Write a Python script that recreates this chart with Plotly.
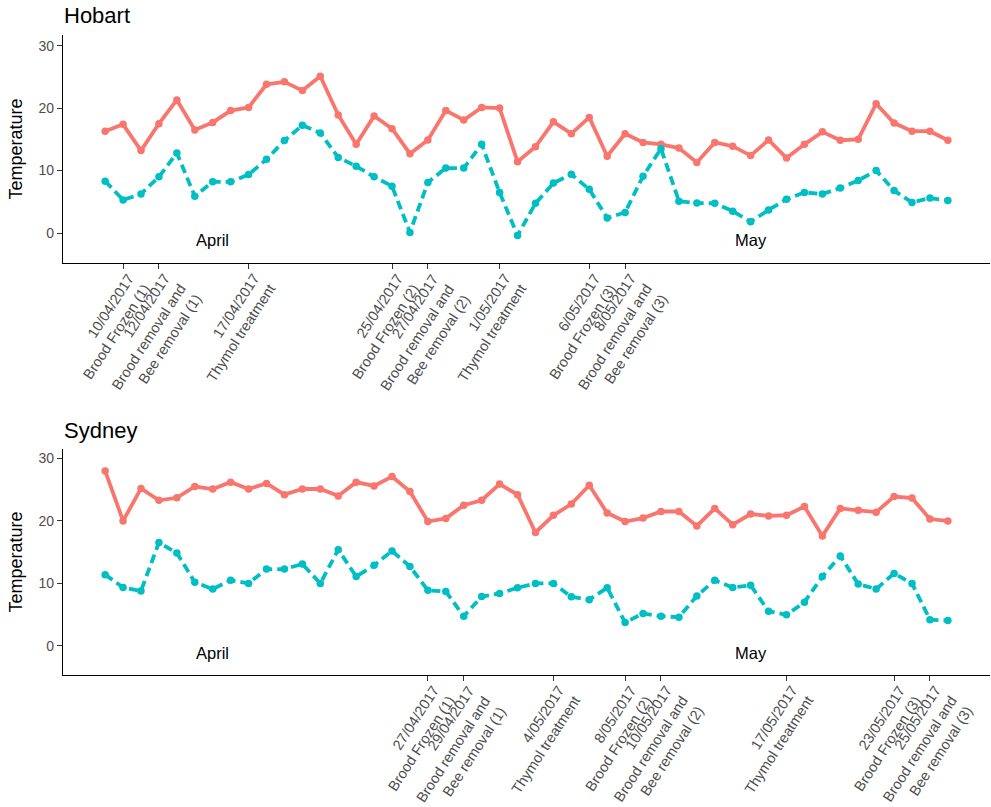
import math
import pandas as pd
import plotly.graph_objects as go

# One reading per day, 9 April to 26 May 2017
dates = pd.date_range("2017-04-09", periods=48, freq="D")

hobart_red = [16.3, 17.4, 13.2, 17.5, 21.3, 16.5, 17.7, 19.6, 20.1, 23.8, 24.2, 22.8,
              25.1, 18.9, 14.2, 18.75, 16.7, 12.7, 14.9, 19.6, 18.1, 20.1, 20.0, 11.4,
              13.8, 17.8, 15.9, 18.5, 12.3, 15.9, 14.5, 14.2, 13.6, 11.3, 14.5, 13.9,
              12.4, 14.9, 12.0, 14.2, 16.2, 14.85, 15.0, 20.7, 17.6, 16.3, 16.3, 14.85]
hobart_teal = [8.3, 5.3, 6.25, 9.0, 12.8, 5.9, 8.2, 8.2, 9.35, 11.8, 14.8, 17.25,
               16.0, 12.1, 10.7, 9.0, 7.5, 0.1, 8.1, 10.4, 10.4, 14.2, 6.5, -0.4,
               4.75, 8.0, 9.4, 7.0, 2.4, 3.3, 9.1, 13.5, 5.1, 4.8, 4.75, 3.5,
               1.8, 3.7, 5.4, 6.5, 6.25, 7.2, 8.4, 10.0, 6.8, 4.9, 5.6, 5.2]

sydney_red = [28.0, 20.0, 25.2, 23.3, 23.7, 25.5, 25.1, 26.2, 25.1, 26.0, 24.2, 25.1,
              25.1, 24.0, 26.2, 25.6, 27.1, 24.7, 19.9, 20.4, 22.5, 23.3, 25.9, 24.2,
              18.15, 20.9, 22.7, 25.7, 21.25, 19.9, 20.45, 21.5, 21.5, 19.2, 22.0, 19.4,
              21.1, 20.8, 20.9, 22.3, 17.6, 22.0, 21.7, 21.4, 23.9, 23.65, 20.3, 20.0]
sydney_teal = [11.4, 9.35, 8.8, 16.55, 14.85, 10.2, 9.1, 10.5, 10.0, 12.3, 12.3, 13.1,
               10.0, 15.4, 11.1, 12.9, 15.2, 12.7, 8.9, 8.7, 4.75, 7.9, 8.4, 9.3,
               10.0, 10.0, 7.85, 7.4, 9.3, 3.75, 5.2, 4.75, 4.6, 8.0, 10.5, 9.35,
               9.7, 5.55, 4.97, 7.0, 11.1, 14.4, 9.9, 9.1, 11.6, 10.0, 4.2, 4.05]

# Treatment events (axis breaks)
hobart_event_dates = ["2017-04-10", "2017-04-12", "2017-04-17", "2017-04-25",
                      "2017-04-27", "2017-05-01", "2017-05-06", "2017-05-08"]
hobart_event_text = [
    "10/04/2017<br>Brood Frozen (1)",
    "12/04/2017<br>Brood removal and<br>Bee removal (1)",
    "17/04/2017<br>Thymol treatment",
    "25/04/2017<br>Brood Frozen (2)",
    "27/04/2017<br>Brood removal and<br>Bee removal (2)",
    "1/05/2017<br>Thymol treatment",
    "6/05/2017<br>Brood Frozen (3)",
    "8/05/2017<br>Brood removal and<br>Bee removal (3)",
]
sydney_event_dates = ["2017-04-27", "2017-04-29", "2017-05-04", "2017-05-08",
                      "2017-05-10", "2017-05-17", "2017-05-23", "2017-05-25"]
sydney_event_text = [
    "27/04/2017<br>Brood Frozen (1)",
    "29/04/2017<br>Brood removal and<br>Bee removal (1)",
    "4/05/2017<br>Thymol treatment",
    "8/05/2017<br>Brood Frozen (2)",
    "10/05/2017<br>Brood removal and<br>Bee removal (2)",
    "17/05/2017<br>Thymol treatment",
    "23/05/2017<br>Brood Frozen (3)",
    "25/05/2017<br>Brood removal and<br>Bee removal (3)",
]

month_names = ["April", "May"]
month_dates = ["2017-04-15", "2017-05-15"]
month_y = -1.1

y_ticks = [0, 10, 20, 30]

RED = "#F8766D"
TEAL = "#00BFC4"
FONT = "Liberation Sans, Arial, sans-serif"
W, H = 991, 807

# x range: data span padded by 5% on each side
pad = (dates[-1] - dates[0]) * 0.05
x_range = [dates[0] - pad, dates[-1] + pad]

LBL_SIZE = 14.5
LBL_ANGLE = 57
LBL_DX, LBL_DY = 0, 8

fig = go.Figure()

panels = [
    ("Hobart", hobart_red, hobart_teal, hobart_event_dates, hobart_event_text, "x", "y", (35, 263), (-4.8, 31.7)),
    ("Sydney", sydney_red, sydney_teal, sydney_event_dates, sydney_event_text, "x2", "y2", (449, 675), (-4.65, 31.5)),
]

annotations = []
for i, (name, red, teal, ev_dates, ev_text, xa, ya, (top, bot), yrng) in enumerate(panels):
    fig.add_trace(go.Scatter(
        x=dates, y=red, xaxis=xa, yaxis=ya, mode="lines+markers",
        line=dict(color=RED, width=3.8), marker=dict(color=RED, size=7.5),
        showlegend=False, hoverinfo="skip"))
    fig.add_trace(go.Scatter(
        x=dates, y=teal, xaxis=xa, yaxis=ya, mode="lines+markers",
        line=dict(color=TEAL, width=3.8, dash="9px,5px"), marker=dict(color=TEAL, size=7.5),
        showlegend=False, hoverinfo="skip"))

    suffix = "" if i == 0 else "2"
    dom_y = [1 - bot / H, 1 - top / H]
    fig.layout["xaxis" + suffix] = dict(
        type="date", domain=[63 / W, 990 / W], range=x_range, anchor=ya, automargin=False,
        showline=True, linecolor="black", linewidth=1.4,
        showgrid=False, zeroline=False,
        tickmode="array", tickvals=ev_dates, showticklabels=False,
        ticks="outside", ticklen=5, tickwidth=1.2, tickcolor="#333333",
    )
    fig.layout["yaxis" + suffix] = dict(
        domain=dom_y, range=list(yrng), anchor=xa, automargin=False,
        showline=True, linecolor="black", linewidth=1.4,
        showgrid=False, zeroline=False,
        tickmode="array", tickvals=y_ticks,
        ticks="outside", ticklen=5, tickwidth=1.2, tickcolor="#333333",
        tickfont=dict(family=FONT, size=14, color="#4D4D4D"),
    )

    # rotated event labels: top-right corner of each text block sits just below its tick
    a = math.radians(LBL_ANGLE)
    for d, t in zip(ev_dates, ev_text):
        n_lines = t.count("<br>") + 1
        box_h = LBL_SIZE * (1.3 * n_lines - 0.1)
        annotations.append(dict(
            text=t, xref=xa, yref="paper", x=d, y=1 - bot / H,
            xanchor="right", yanchor="top", align="right",
            xshift=LBL_DX + box_h * math.sin(a), yshift=-LBL_DY,
            textangle=-LBL_ANGLE, showarrow=False, borderpad=0, borderwidth=0,
            font=dict(family=FONT, size=LBL_SIZE, color="#4D4D4D")))

    # panel title
    annotations.append(dict(
        text=name, xref="paper", yref="paper", x=62 / W, y=1 - (top - 19) / H,
        xanchor="left", yanchor="middle", showarrow=False,
        font=dict(family=FONT, size=22, color="black")))
    # y-axis title
    annotations.append(dict(
        text="Temperature", xref="paper", yref="paper", x=15.5 / W, y=1 - ((top + bot) / 2) / H,
        xanchor="center", yanchor="middle", textangle=-90, showarrow=False,
        font=dict(family=FONT, size=18, color="black")))
    # month labels
    for m, md in zip(month_names, month_dates):
        annotations.append(dict(
            text=m, xref=xa, yref=ya, x=md, y=month_y,
            xanchor="center", yanchor="middle", showarrow=False,
            font=dict(family=FONT, size=16.5, color="black")))

fig.update_layout(
    width=W, height=H,
    margin=dict(l=0, r=0, t=0, b=0, autoexpand=False),
    paper_bgcolor="white", plot_bgcolor="white",
    annotations=annotations,
    font=dict(family=FONT),
)

fig.write_html("out.html")
